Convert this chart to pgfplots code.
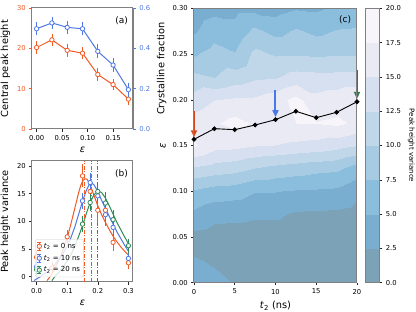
\documentclass[border=0pt]{standalone}
\usepackage{fontspec}
\setmainfont{DejaVu Sans}
\usepackage{pgfplots}
\pgfplotsset{compat=1.18}
\usetikzlibrary{arrows.meta}
\definecolor{cor}{HTML}{F25A24}
\definecolor{cbl}{HTML}{4F78E2}
\definecolor{cgr}{HTML}{2E8B57}
\definecolor{spine}{HTML}{808080}
\definecolor{arrR}{HTML}{D2481A}
\definecolor{arrB}{HTML}{4A78E8}
\definecolor{arrG}{HTML}{2E7D4A}
\pgfplotsset{
  every axis/.append style={
    scale only axis,
    axis line style={spine, line width=1pt},
    tick align=outside,
    major tick length=2.8pt,
    tick style={black!85, line width=0.5pt},
    tick label style={font=\fontsize{6.8}{7.5}\selectfont},
    label style={font=\fontsize{9.8}{11}\selectfont},
    /pgf/number format/assume math mode=true,
    xtick pos=bottom, ytick pos=left,
  },
  ebars/.style={error bars/.cd, y dir=both, y explicit,
    error bar style={line width=0.7pt, solid},
    error mark options={mark size=2.6pt, line width=0.7pt}},
  eleg/.style={legend image code/.code={%
    \draw[#1, line width=0.7pt] (0.25cm,-0.13cm) -- (0.25cm,0.13cm)
      (0.18cm,-0.13cm) -- (0.32cm,-0.13cm) (0.18cm,0.13cm) -- (0.32cm,0.13cm);
    \draw[#1, fill=white, line width=0.8pt] (0.25cm,0cm) circle[radius=2.2pt];}},
}
\begin{document}
\begin{tikzpicture}
\useasboundingbox (0,0) rectangle (416pt,312pt);
% ---------------- (a) ----------------
\begin{axis}[at={(32pt,183pt)}, anchor=south west, width=101pt, height=121pt,
  xmin=-0.009, xmax=0.189, ymin=0, ymax=30,
  xtick={0,0.05,0.1,0.15}, ytick={0,10,20,30},
  xticklabel style={/pgf/number format/.cd, fixed, fixed zerofill, precision=2},
  yticklabel style={text=cor}, y tick style={cor},
  xlabel={\textit{ε}}, ylabel={Central peak height}]
\addplot[cor, line width=1pt, mark=*, mark size=2.2pt, mark options={fill=white, line width=0.8pt}, ebars]
 coordinates {(0,20.2) +- (0,0.9) (0.03,22.1) +- (0,0.9) (0.06,19.5) +- (0,1.0) (0.09,18.8) +- (0,0.9)
   (0.12,13.5) +- (0,0.9) (0.15,11.0) +- (0,0.8) (0.18,7.4) +- (0,0.8)};
\node[anchor=north east, font=\fontsize{9}{10}\selectfont] at (rel axis cs:0.985,0.96) {(a)};
\end{axis}
\begin{axis}[at={(32pt,183pt)}, anchor=south west, width=101pt, height=121pt,
  xmin=-0.009, xmax=0.189, ymin=0, ymax=0.6,
  hide x axis, axis y line*=right, ytick pos=right,
  ytick={0,0.2,0.4,0.6},
  yticklabel style={text=cbl, /pgf/number format/.cd, fixed, fixed zerofill, precision=1},
  y tick style={cbl},
  ylabel={Crystalline fraction}]
\addplot[cbl, line width=1pt, mark=*, mark size=2.2pt, mark options={fill=white, line width=0.8pt}, ebars]
 coordinates {(0,0.497) +- (0,0.02) (0.03,0.526) +- (0,0.018) (0.06,0.504) +- (0,0.02) (0.09,0.497) +- (0,0.02)
   (0.12,0.385) +- (0,0.022) (0.15,0.317) +- (0,0.02) (0.18,0.195) +- (0,0.022)};
\end{axis}
% ---------------- (b) ----------------
\begin{axis}[at={(32pt,30pt)}, anchor=south west, width=101pt, height=121pt,
  xmin=-0.015, xmax=0.315, ymin=-0.96, ymax=20.9,
  xtick={0,0.1,0.2,0.3}, ytick={0,5,10,15,20},
  xticklabel style={/pgf/number format/.cd, fixed, fixed zerofill, precision=1},
  xlabel={\textit{ε}}, ylabel={Peak height variance},
  legend cell align=left,
  legend style={at={(0.03,0.04)}, anchor=south west, font=\fontsize{7}{8}\selectfont,
    draw=black!20, fill=white, fill opacity=0.8, text opacity=1, rounded corners=2pt,
    inner sep=1.5pt, row sep=1.2pt}]
% fits
\addplot[cor, line width=1pt, forget plot] coordinates {
 (0.034,-0.7) (0.04,-0.3) (0.05,0.5) (0.0625,1.8) (0.075,3.3) (0.0875,5.0) (0.1,7.0) (0.1125,9.6)
 (0.125,12.4) (0.1375,15.2) (0.145,16.6) (0.15,17.2) (0.1575,17.7) (0.165,17.6) (0.175,16.6) (0.1875,14.7)
 (0.2,12.8) (0.2125,11.2) (0.225,9.8) (0.2375,8.5) (0.25,7.3) (0.2625,6.3) (0.275,5.4) (0.2875,4.6) (0.3,3.9)};
\addplot[cbl, line width=1pt, forget plot] coordinates {
 (-0.008,-0.7) (0,-0.4) (0.0125,0.0) (0.025,0.5) (0.0375,1.0) (0.05,1.6) (0.0625,2.4) (0.075,3.3) (0.0875,4.3) (0.1,5.5) (0.1125,7.1) (0.125,9.0)
 (0.1375,11.3) (0.15,13.6) (0.1625,15.6) (0.1725,16.7) (0.18,16.9) (0.1875,16.6) (0.2,15.4)
 (0.2125,13.8) (0.225,12.3) (0.2375,10.9) (0.25,9.5) (0.2625,8.1) (0.275,6.9) (0.2875,5.7) (0.3,4.6)};
\addplot[cgr, line width=1pt, forget plot] coordinates {
 (0.05,-0.7) (0.0625,0.2) (0.075,0.9) (0.0875,1.8) (0.1,2.8) (0.1125,4.0) (0.125,5.5) (0.1375,7.3) (0.15,9.2) (0.1625,11.4) (0.175,13.4)
 (0.1875,14.8) (0.2,15.5) (0.2125,15.2) (0.225,14.2) (0.2375,12.8) (0.25,11.3) (0.2625,9.8) (0.275,8.5) (0.2875,7.2) (0.3,6.0)};
% peak lines
\addplot[cor, line width=0.9pt, dash pattern=on 4pt off 1.5pt on 1pt off 1.5pt, forget plot] coordinates {(0.158,-0.96) (0.158,20.9)};
\addplot[cbl, line width=0.9pt, dash pattern=on 4pt off 1.5pt on 1pt off 1.5pt, forget plot] coordinates {(0.179,-0.96) (0.179,20.9)};
\addplot[cgr, line width=0.9pt, dash pattern=on 4pt off 1.5pt on 1pt off 1.5pt, forget plot] coordinates {(0.199,-0.96) (0.199,20.9)};
% data
\addplot[cor, only marks, mark=*, mark size=2.2pt, mark options={fill=white, line width=0.8pt}, eleg={cor}, ebars]
 coordinates {(0,3.5) +- (0,0.6) (0.05,1.6) +- (0,0.5) (0.1,7.2) +- (0,0.7) (0.15,18.2) +- (0,1.6)
  (0.175,15.4) +- (0,1.0) (0.2,12.0) +- (0,1.8) (0.225,12.0) +- (0,1.2) (0.25,6.2) +- (0,1.1) (0.3,2.5) +- (0,0.6)};
\addlegendentry{\textit{t}\textsubscript{2} = 0 ns}
\addplot[cbl, only marks, mark=*, mark size=2.2pt, mark options={fill=white, line width=0.8pt}, eleg={cbl}, ebars]
 coordinates {(0,1.8) +- (0,0.5) (0.15,13.7) +- (0,1.0) (0.175,17.0) +- (0,1.3) (0.2,14.6) +- (0,1.2)
  (0.225,11.2) +- (0,1.5) (0.25,8.9) +- (0,1.1) (0.3,3.3) +- (0,0.5)};
\addlegendentry{\textit{t}\textsubscript{2} = 10 ns}
\addplot[cgr, only marks, mark=*, mark size=2.2pt, mark options={fill=white, line width=0.8pt}, eleg={cgr}, ebars]
 coordinates {(0,1.3) +- (0,0.5) (0.15,9.5) +- (0,1.0) (0.175,13.4) +- (0,1.0) (0.2,15.4) +- (0,1.3)
  (0.225,13.3) +- (0,1.5) (0.25,10.3) +- (0,1.3) (0.3,5.6) +- (0,0.8)};
\addlegendentry{\textit{t}\textsubscript{2} = 20 ns}
\node[anchor=north east, font=\fontsize{9}{10}\selectfont] at (rel axis cs:0.985,0.96) {(b)};
\end{axis}
% ---------------- (c) ----------------
\begin{axis}[at={(194pt,29.3pt)}, anchor=south west, width=163pt, height=274.4pt,
  xmin=0, xmax=20, ymin=0, ymax=0.3, clip=false, axis on top,
  xtick={0,5,10,15,20}, ytick={0,0.05,0.1,0.15,0.2,0.25,0.3},
  yticklabel style={/pgf/number format/.cd, fixed, fixed zerofill, precision=2},
  xlabel={\textit{t}\textsubscript{2} (ns)}, ylabel={\textit{ε}},
  colormap={pv}{rgb255=(121,174,208) rgb255=(124,162,184) rgb255=(121,174,208) rgb255=(139,189,220)
    rgb255=(166,203,226) rgb255=(192,214,233) rgb255=(215,224,240) rgb255=(233,234,244)
    rgb255=(247,245,250)},
  colormap access=piecewise constant,
  point meta min=-2.5, point meta max=20,
  colorbar,
  colorbar style={at={(parent axis.north east)}, anchor=north west, width=14pt,
    ymin=0, ymax=20, ytick={0,2.5,5,7.5,10,12.5,15,17.5,20},
    ytick pos=right, yticklabel pos=right,
    yticklabel style={/pgf/number format/.cd, fixed, fixed zerofill, precision=1},
    ylabel={Peak height variance},
    ylabel style={font=\fontsize{7}{8}\selectfont, rotate=180, anchor=south}},
]
\addplot[surf, shader=interp, point meta=explicit, mesh/cols=9, mesh/rows=13] table[x=t, y=e, meta=z] {
t e z
0 0 -2.0
2.5 0 -0.8
5 0 0.1
7.5 0 0.3
10 0 0.4
12.5 0 0.4
15 0 0.4
17.5 0 0.4
20 0 0.4
0 0.025 -0.3
2.5 0.025 0.4
5 0.025 0.8
7.5 0.025 0.8
10 0.025 0.8
12.5 0.025 0.7
15 0.025 0.7
17.5 0.025 0.7
20 0.025 0.6
0 0.05 1.8
2.5 0.05 1.4
5 0.05 1.3
7.5 0.05 1.2
10 0.05 1.2
12.5 0.05 1.0
15 0.05 1.0
17.5 0.05 1.0
20 0.05 0.8
0 0.075 4.4
2.5 0.075 3.3
5 0.075 3.2
7.5 0.075 2.9
10 0.075 2.9
12.5 0.075 2.2
15 0.075 2.1
17.5 0.075 2.0
20 0.075 1.6
0 0.1 7.2
2.5 0.1 6.4
5 0.1 6.1
7.5 0.1 5.1
10 0.1 5.1
12.5 0.1 4.8
15 0.1 4.7
17.5 0.1 4.5
20 0.1 3.2
0 0.125 12.2
2.5 0.125 11.5
5 0.125 11.0
7.5 0.125 10.0
10 0.125 9.3
12.5 0.125 8.8
15 0.125 8.3
17.5 0.125 8.0
20 0.125 6.5
0 0.15 17.8
2.5 0.15 16.0
5 0.15 15.8
7.5 0.15 15.2
10 0.15 15.0
12.5 0.15 14.5
15 0.15 14.2
17.5 0.15 13.5
20 0.15 12.6
0 0.175 16.2
2.5 0.175 17.2
5 0.175 18.3
7.5 0.175 17.2
10 0.175 17.3
12.5 0.175 17.5
15 0.175 17.6
17.5 0.175 18.0
20 0.175 17.0
0 0.2 13.6
2.5 0.2 15.0
5 0.2 15.5
7.5 0.2 15.5
10 0.2 16.5
12.5 0.2 18.3
15 0.2 15.8
17.5 0.2 16.4
20 0.2 17.6
0 0.225 10.65
2.5 0.225 9.94
5 0.225 11.14
7.5 0.225 12.06
10 0.225 12.21
12.5 0.225 13.44
15 0.225 13.29
17.5 0.225 13.29
20 0.225 13.29
0 0.25 7.26
2.5 0.25 8.45
5 0.25 7.66
7.5 0.25 10.67
10 0.25 9.76
12.5 0.25 9.84
15 0.25 9.57
17.5 0.25 9.83
20 0.25 9.83
0 0.275 4.7
2.5 0.275 6.48
5 0.275 5.92
7.5 0.275 8.09
10 0.275 6.71
12.5 0.275 7.82
15 0.275 6.92
17.5 0.275 7.67
20 0.275 7.82
0 0.3 3.5
2.5 0.3 4.2
5 0.3 4.3
7.5 0.3 4.2
10 0.3 4.0
12.5 0.3 4.8
15 0.3 4.6
17.5 0.3 5.5
20 0.3 5.8
};
\addplot[black, line width=0.9pt, mark=*, mark size=1.9pt] coordinates {
 (0,0.1567) (2.5,0.1684) (5,0.1673) (7.5,0.1724) (10,0.1782) (12.5,0.1874) (15,0.1804) (17.5,0.1863) (20,0.1978)};
\addplot[arrR, line width=2pt, -{Triangle[length=7pt, width=6pt]}] coordinates {(0,0.188) (0,0.159)};
\addplot[arrB, line width=2pt, -{Triangle[length=7pt, width=6pt]}] coordinates {(10,0.211) (10,0.181)};
\addplot[arrG, line width=2pt, -{Triangle[length=7pt, width=6pt]}] coordinates {(20,0.232) (20,0.201)};
\node[anchor=north east, font=\fontsize{9}{10}\selectfont] at (rel axis cs:0.985,0.985) {(c)};
\end{axis}
\end{tikzpicture}
\end{document}
